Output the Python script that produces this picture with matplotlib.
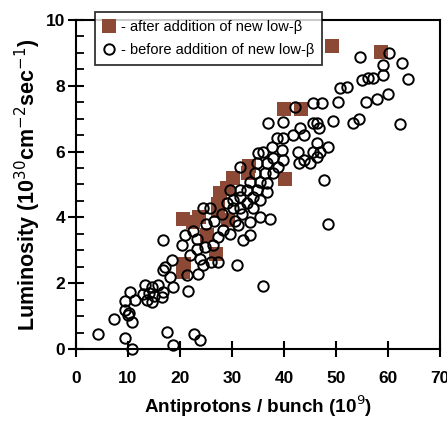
import numpy as np
import matplotlib.pyplot as plt
from matplotlib.ticker import MultipleLocator

plt.rcParams['font.family'] = ['Liberation Sans', 'DejaVu Sans']

# before addition of new low-beta (open circles)
before_x = [4.2, 7.3, 9.4, 10.7, 9.4, 9.4, 10.4, 10.7, 10.0, 11.3, 12.9, 13.3, 13.6, 14.6, 14.6,
            15.8, 16.8, 16.5, 16.8, 16.8, 17.1, 17.5, 18.7, 18.7, 18.5, 18.1, 20.4, 21.0, 21.5,
            21.3, 21.9, 22.7, 23.8, 23.2, 23.2, 23.8, 24.4, 23.5, 24.8, 26.0, 26.3, 27.3, 27.3,
            28.3, 29.6, 31.0, 31.2, 32.1, 33.5, 33.5, 35.4, 37.3, 36.0, 48.5,
            10.2, 14.0, 15.0, 22.5, 25.0, 26.5, 28.0, 30.5, 32.0,
            31.5, 34.4, 37.9, 36.3, 36.7, 35.4, 33.5, 34.8, 32.9, 31.5, 36.7, 29.6, 31.5, 34.0,
            35.4, 30.2, 32.9, 29.0, 30.2, 31.5, 24.4, 25.8, 34.0,
            54.6, 60.2, 59.0, 62.7, 63.8, 55.0, 56.2, 57.1, 59.0, 60.0, 57.9, 55.8, 52.1, 50.8,
            50.4, 54.4, 53.3, 49.4, 62.3, 47.3, 45.6, 42.1, 46.3, 46.7, 45.6, 39.8, 36.9, 43.1,
            41.7, 43.8, 39.8, 38.7, 37.7, 46.3, 48.5, 45.6, 46.9, 42.7, 39.6, 36.0, 42.9, 45.0,
            46.3, 43.8, 39.8, 37.9, 38.8, 36.7, 34.8, 35.0, 47.7]
before_y = [0.46, 0.91, 0.34, 0.0, 1.46, 1.18, 1.73, 0.82, 1.03, 1.49, 1.67, 1.94, 1.49, 1.88, 1.43,
            1.94, 1.73, 1.58, 3.31, 2.40, 2.49, 0.52, 0.12, 1.88, 2.70, 2.19, 3.16, 3.47, 1.76,
            2.25, 2.86, 0.46, 0.27, 3.34, 3.04, 2.73, 2.55, 2.28, 3.10, 2.64, 3.16, 2.64, 3.40,
            3.62, 3.50, 2.55, 3.77, 3.31, 3.47, 3.86, 4.00, 3.95, 1.91, 3.80,
            1.10, 1.70, 1.60, 3.60, 3.80, 3.90, 4.10, 3.90, 4.10,
            5.53, 5.35, 5.35, 5.35, 5.05, 5.08, 5.08, 4.83, 4.83, 4.83, 4.77, 4.83, 4.62, 4.62,
            4.53, 4.53, 4.44, 4.44, 4.29, 4.29, 4.29, 4.29, 4.29,
            8.88, 9.00, 8.63, 8.69, 8.20, 8.18, 8.24, 8.24, 8.33, 7.75, 7.60, 7.50, 7.96, 7.93,
            7.50, 6.99, 6.87, 6.93, 6.84, 7.48, 7.48, 7.36, 6.87, 6.72, 6.87, 6.90, 6.87, 6.72,
            6.50, 6.50, 6.41, 6.41, 6.14, 6.26, 6.14, 5.99, 5.99, 5.99, 6.05, 5.99, 5.65, 5.65,
            5.84, 5.74, 5.74, 5.80, 5.53, 5.65, 5.65, 5.96, 5.14]

# after addition of new low-beta (filled squares)
after_x = [49.2, 58.7, 40.0, 43.2, 40.2, 33.1, 33.3, 30.2, 27.7, 27.3, 29.0, 20.6, 22.5, 23.7,
           29.2, 25.2, 26.9, 20.8, 20.6, 27.3]
after_y = [9.20, 9.03, 7.30, 7.28, 5.17, 5.35, 5.55, 5.20, 4.74, 4.40, 4.90, 3.95, 3.86, 4.00,
           3.92, 3.47, 2.88, 2.58, 2.35, 4.20]

brown = '#8c4a36'

fig = plt.figure(figsize=(4.47, 4.24), dpi=100)
ax = fig.add_axes([0.170, 0.177, 0.814, 0.776])

sq, = ax.plot(after_x, after_y, 's', color=brown, markersize=9.5, markeredgewidth=0,
              linestyle='none', zorder=2, clip_on=False)
ci, = ax.plot(before_x, before_y, 'o', markerfacecolor='none', markeredgecolor='black',
              markersize=7.5, markeredgewidth=1.4, linestyle='none', zorder=3, clip_on=False)

ax.set_xlim(0, 70)
ax.set_ylim(0, 10)
ax.xaxis.set_major_locator(MultipleLocator(10))
ax.yaxis.set_major_locator(MultipleLocator(2))
ax.yaxis.set_minor_locator(MultipleLocator(0.5))

for s in ax.spines.values():
    s.set_linewidth(1.5)

ax.tick_params(axis='x', which='major', direction='inout', length=12, width=1.5, pad=10,
               labelsize=12.5)
ax.tick_params(axis='y', which='major', direction='inout', length=12, width=1.5, pad=2,
               labelsize=12.5)
ax.tick_params(axis='y', which='minor', direction='in', length=6, width=1.3)
for lab in ax.get_xticklabels() + ax.get_yticklabels():
    lab.set_fontweight('bold')

ax.set_xlabel('Antiprotons / bunch (10$^{9}$)', fontsize=13.6, fontweight='bold', labelpad=5)
ax.set_ylabel('Luminosity (10$^{30}$cm$^{-2}$sec$^{-1}$)', fontsize=15.5, fontweight='bold',
              labelpad=2)

leg = fig.legend([sq, ci], ['- after addition of new low-β', '- before addition of new low-β'],
                 loc='upper left', bbox_to_anchor=(0.2125, 0.972), fontsize=10.5,
                 frameon=True, fancybox=False, handlelength=0.8, handletextpad=0.4,
                 borderpad=0.55, labelspacing=0.6, borderaxespad=0)
leg.get_frame().set_edgecolor('black')
leg.get_frame().set_linewidth(1.3)
leg.set_zorder(5)

fig.savefig('out.png', dpi=100)
